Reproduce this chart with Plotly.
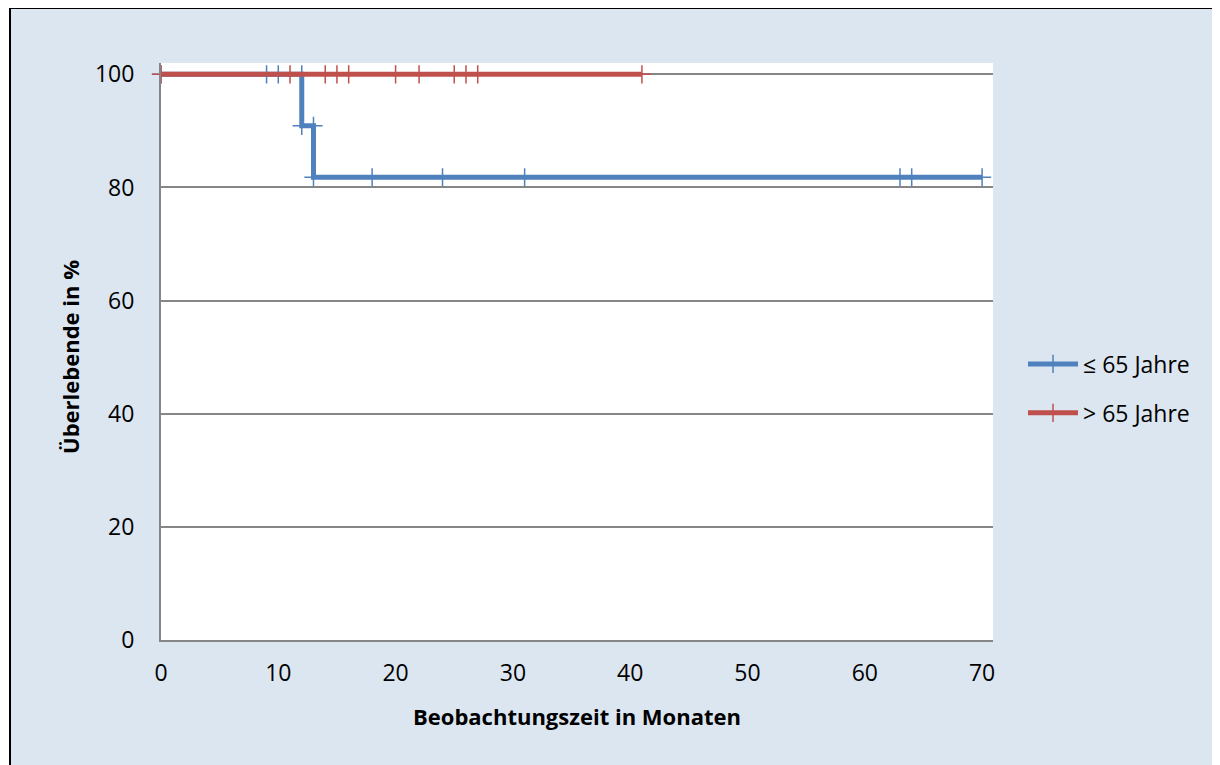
import plotly.graph_objects as go

# Data
blue_name = "≤ 65 Jahre"
blue_x = [0, 9, 10, 12, 12, 13, 13, 18, 24, 31, 63, 64, 70]
blue_y = [100, 100, 100, 100, 90.9, 90.9, 81.8, 81.8, 81.8, 81.8, 81.8, 81.8, 81.8]

red_name = "> 65 Jahre"
red_x = [0, 11, 14, 15, 16, 20, 22, 25, 26, 27, 41]
red_y = [100, 100, 100, 100, 100, 100, 100, 100, 100, 100, 100]

x_ticks = [0, 10, 20, 30, 40, 50, 60, 70]
y_ticks = [0, 20, 40, 60, 80, 100]

x_title = "Beobachtungszeit in Monaten"
y_title = "Überlebende in %"

BLUE = "#4F81BD"
RED = "#C0504D"
FONT = "Open Sans"
FS_TICK = 23
FS_TITLE = 22
FS_LEG = 23

fig = go.Figure()
fig.add_trace(go.Scatter(
    x=blue_x, y=blue_y, name=blue_name, mode="lines+markers",
    line=dict(color=BLUE, width=5),
    marker=dict(symbol="cross-thin", size=13, line=dict(color=BLUE, width=1.5)),
    cliponaxis=False, legendgroup="a",
))
fig.add_trace(go.Scatter(
    x=red_x, y=red_y, name=red_name, mode="lines+markers",
    line=dict(color=RED, width=5),
    marker=dict(symbol="cross-thin", size=13, line=dict(color=RED, width=1.5)),
    cliponaxis=False, legendgroup="b",
))

# page has an 8px body margin, so figure is offset by (8, 8)
OFF = 8
W, H = 1220 - OFF, 765 - OFF
L, R, T, B = 161 - OFF, 227, 63 - OFF, 125
pw, ph = W - L - R, H - T - B

def px2x(px):
    return (px - OFF - L) / pw

def py2y(py):
    return (H - B - (py - OFF)) / ph

fig.update_layout(
    width=W, height=H,
    margin=dict(l=L, r=R, t=T, b=B),
    paper_bgcolor="white",
    plot_bgcolor="white",
    font=dict(family=FONT, size=FS_TICK, color="black"),
    showlegend=True,
    legend=dict(
        x=px2x(1023), y=py2y(388.5), xanchor="left", yanchor="middle",
        bgcolor="rgba(0,0,0,0)", font=dict(size=FS_LEG, family=FONT),
        tracegroupgap=16, traceorder="grouped", itemwidth=50,
    ),
    xaxis=dict(
        range=[0, 70.93], tickvals=x_ticks, showgrid=False,
        showline=True, linecolor="#868686", linewidth=2,
        ticks="", ticklabelstandoff=11, zeroline=False,
        tickfont=dict(size=FS_TICK),
    ),
    yaxis=dict(
        range=[0, 102], tickvals=y_ticks, showgrid=True,
        gridcolor="#868686", gridwidth=1.5,
        showline=True, linecolor="#868686", linewidth=2,
        ticks="", ticklabelstandoff=20, zeroline=False,
        tickfont=dict(size=FS_TICK),
    ),
    shapes=[
        dict(type="rect", xref="paper", yref="paper",
             x0=px2x(10), x1=px2x(1218), y0=py2y(775), y1=py2y(8),
             fillcolor="#DCE6F1", line=dict(color="black", width=2), layer="below"),
        dict(type="rect", xref="paper", yref="paper",
             x0=0, x1=1, y0=0, y1=1,
             fillcolor="white", line=dict(width=0), layer="below"),
    ],
    annotations=[
        dict(text=f"<b>{x_title}</b>", xref="paper", yref="paper",
             x=0.5, y=py2y(716), xanchor="center", yanchor="middle",
             showarrow=False, font=dict(size=FS_TITLE, family=FONT)),
        dict(text=f"<b>{y_title}</b>", xref="paper", yref="paper",
             x=px2x(70), y=py2y(357), xanchor="center", yanchor="middle",
             textangle=-90, showarrow=False, font=dict(size=FS_TITLE, family=FONT)),
    ],
)

fig.write_html("out.html")
